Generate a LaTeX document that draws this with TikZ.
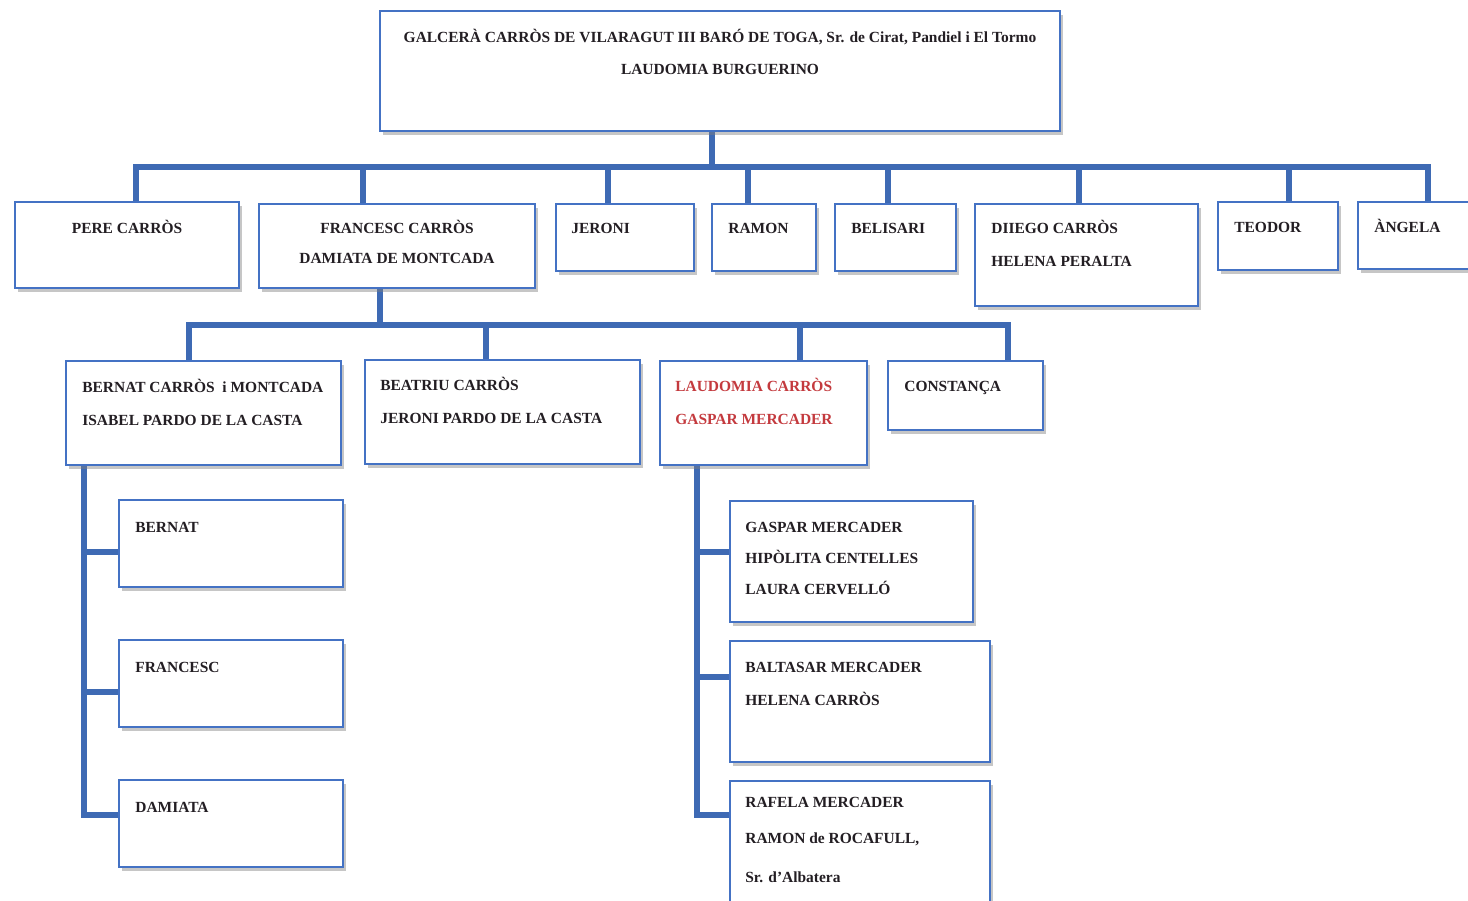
\documentclass[tikz,border=0pt]{standalone}
\usepackage{fontspec}
\setmainfont{Liberation Serif}
\usetikzlibrary{fit,shadows,backgrounds}
\definecolor{arbreblau}{RGB}{62,106,180}
\definecolor{caixablau}{RGB}{68,114,196}
\definecolor{nomvermell}{RGB}{196,58,62}
\definecolor{nomnegre}{RGB}{35,30,35}

\begin{document}
\begin{tikzpicture}[x=0.02cm, y=-0.02cm,
  caixa/.style={draw=caixablau, line width=1.6pt, fill=white, inner sep=0pt,
    drop shadow={shadow xshift=1.5pt, shadow yshift=-2.5pt, opacity=0.45}},
  nom/.style={anchor=mid west, inner sep=0pt, text=nomnegre,
    font=\fontsize{8.8}{10}\selectfont\bfseries},
  nomc/.style={nom, anchor=mid},
  branca/.style={draw=arbreblau, line width=3.4pt}]
\useasboundingbox (0,0) rectangle (1468,901);
\clip (0,0) rectangle (1468,901);

% Galcerà i Laudomia
\node[caixa, fit={(380,11) (1060,131)}] (galcera) {};
\node[nomc] (galcera-1) at (720,38) {GALCERÀ CARRÒS DE VILARAGUT III BARÓ DE TOGA, Sr. de Cirat, Pandiel i El Tormo};
\node[nomc] (galcera-2) at (720,70) {LAUDOMIA BURGUERINO};

% fills
\node[caixa, fit={(15,202) (239,288)}] (pere) {};
\node[nomc] (pere-1) at (127,229) {PERE CARRÒS};
\node[caixa, fit={(259,204) (535,288)}] (francesc) {};
\node[nomc] (francesc-1) at (397,229) {FRANCESC CARRÒS};
\node[nomc] (francesc-2) at (397,259) {DAMIATA DE MONTCADA};
\node[caixa, fit={(556,204) (694,271)}] (jeroni) {};
\node[nom] (jeroni-1) at (571,229) {JERONI};
\node[caixa, fit={(712,204) (816,271)}] (ramon) {};
\node[nom] (ramon-1) at (728,229) {RAMON};
\node[caixa, fit={(835,204) (956,271)}] (belisari) {};
\node[nom] (belisari-1) at (851,229) {BELISARI};
\node[caixa, fit={(975,204) (1198,306)}] (diego) {};
\node[nom] (diego-1) at (991,229) {DIIEGO CARRÒS};
\node[nom] (diego-2) at (991,262) {HELENA PERALTA};
\node[caixa, fit={(1218,202) (1338,270)}] (teodor) {};
\node[nom] (teodor-1) at (1234,228) {TEODOR};
\node[caixa, fit={(1358,202) (1490,269)}] (angela) {};
\node[nom] (angela-1) at (1374,228) {ÀNGELA};

% nets
\node[caixa, fit={(66,361) (341,465)}] (bernat) {};
\node[nom] (bernat-1) at (82,388) {BERNAT CARRÒS\ \ i MONTCADA};
\node[nom] (bernat-2) at (82,421) {ISABEL PARDO DE LA CASTA};
\node[caixa, fit={(365,360) (640,464)}] (beatriu) {};
\node[nom] (beatriu-1) at (380,386) {BEATRIU CARRÒS};
\node[nom] (beatriu-2) at (380,419) {JERONI PARDO DE LA CASTA};
\node[caixa, fit={(660,361) (867,465)}] (laudomia) {};
\node[nom, text=nomvermell] (laudomia-1) at (675,387) {LAUDOMIA CARRÒS};
\node[nom, text=nomvermell] (laudomia-2) at (675,420) {GASPAR MERCADER};
\node[caixa, fit={(888,361) (1043,430)}] (constanca) {};
\node[nom] (constanca-1) at (904,387) {CONSTANÇA};

% besnets de Bernat
\node[caixa, fit={(119,500) (343,587)}] (bernatf) {};
\node[nom] (bernatf-1) at (135,528) {BERNAT};
\node[caixa, fit={(119,640) (343,727)}] (francescf) {};
\node[nom] (francescf-1) at (135,668) {FRANCESC};
\node[caixa, fit={(119,780) (343,867)}] (damiata) {};
\node[nom] (damiata-1) at (135,808) {DAMIATA};

% besnets de Laudomia
\node[caixa, fit={(730,501) (973,622)}] (gaspar) {};
\node[nom] (gaspar-1) at (745,528) {GASPAR MERCADER};
\node[nom] (gaspar-2) at (745,559) {HIPÒLITA CENTELLES};
\node[nom] (gaspar-3) at (745,590) {LAURA CERVELLÓ};
\node[caixa, fit={(730,641) (990,762)}] (baltasar) {};
\node[nom] (baltasar-1) at (745,668) {BALTASAR MERCADER};
\node[nom] (baltasar-2) at (745,701) {HELENA CARRÒS};
\node[caixa, fit={(730,781) (990,920)}] (rafela) {};
\node[nom] (rafela-1) at (745,803) {RAFELA MERCADER};
\node[nom] (rafela-2) at (745,839) {RAMON de ROCAFULL,};
\node[nom] (rafela-3) at (745,878) {Sr. d’Albatera};

% branques
\begin{scope}[on background layer]
\coordinate (busA-l) at (136,167);
\coordinate (busA-r) at (1428,167);
\draw[branca] (galcera.south -| 712,0) -- (busA-l -| 712,0);
\draw[branca] (pere.north -| busA-l) -- (busA-l) -- (busA-r) -- (angela.north -| busA-r);
\foreach \n/\x in {francesc/363, jeroni/608, ramon/748, belisari/888, diego/1079, teodor/1289}
  \draw[branca] (\n.north -| \x,0) -- (busA-l -| \x,0);

\coordinate (busB-l) at (189,325);
\coordinate (busB-r) at (1008,325);
\draw[branca] (francesc.south -| 380,0) -- (busB-l -| 380,0);
\draw[branca] (bernat.north -| busB-l) -- (busB-l) -- (busB-r) -- (constanca.north -| busB-r);
\foreach \n/\x in {beatriu/486, laudomia/800}
  \draw[branca] (\n.north -| \x,0) -- (busB-l -| \x,0);

\coordinate (colA) at (84,815);
\draw[branca] (bernat.south -| colA) -- (colA) -- (damiata.west |- colA);
\foreach \n/\y in {bernatf/552, francescf/692}
  \draw[branca] (colA |- 0,\y) -- (\n.west |- 0,\y);

\coordinate (colB) at (697,815);
\draw[branca] (laudomia.south -| colB) -- (colB) -- (rafela.west |- colB);
\foreach \n/\y in {gaspar/552, baltasar/677}
  \draw[branca] (colB |- 0,\y) -- (\n.west |- 0,\y);
\end{scope}
\end{tikzpicture}
\end{document}
